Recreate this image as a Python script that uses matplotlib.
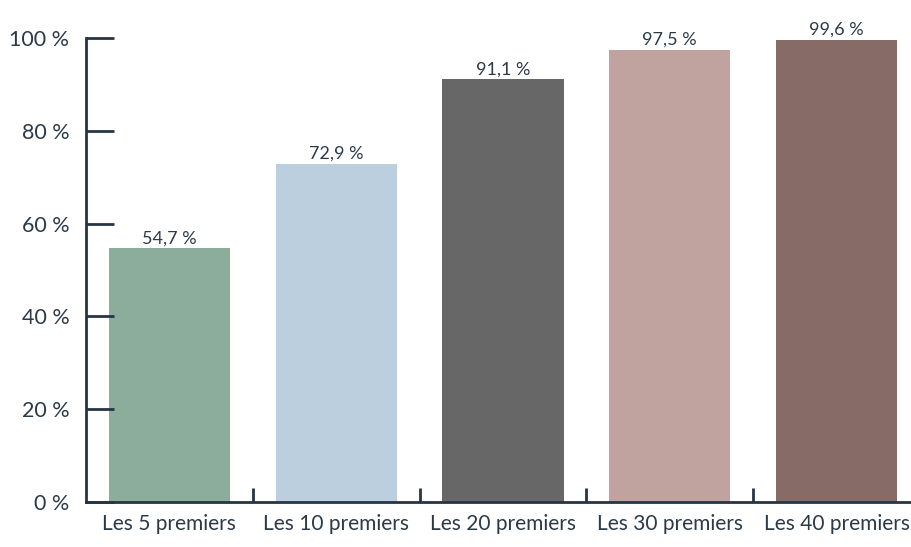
import numpy as np
import matplotlib.pyplot as plt

categories = ["Les 5 premiers", "Les 10 premiers", "Les 20 premiers", "Les 30 premiers", "Les 40 premiers"]
values = [54.7, 72.9, 91.1, 97.5, 99.6]
value_labels = ["54,7 %", "72,9 %", "91,1 %", "97,5 %", "99,6 %"]
colors = ["#8cac9c", "#bccfdf", "#676767", "#c0a29f", "#866b67"]
yticks = [0, 20, 40, 60, 80, 100]

ink = "#2c3a48"
plt.rcParams['font.family'] = ['Lato', 'DejaVu Sans']

fig = plt.figure(figsize=(9.12, 5.47), dpi=100)
ax = fig.add_axes([86/912, 45/547, 834/912, 464/547])

x = np.arange(len(categories))
ax.bar(x, values, width=0.727, color=colors)
for xi, v, lab in zip(x, values, value_labels):
    ax.text(xi, v + 0.4, lab, ha="center", va="bottom", fontsize=13, color=ink)

ax.set_xlim(-0.5, 4.5)
ax.set_ylim(0, 100)
ax.set_yticks(yticks)
ax.set_yticklabels([f"{t} %" for t in yticks], fontsize=15.5, color=ink)
ax.tick_params(axis="y", direction="in", length=20, width=2, color="#263545", pad=12)

ax.set_xticks(x + 0.5, minor=False)
ax.set_xticklabels([])
ax.tick_params(axis="x", direction="in", length=10, width=2, color="#263545")
ax.set_xticks(x, minor=True)
ax.set_xticklabels(categories, minor=True, fontsize=15, color=ink)
ax.tick_params(axis="x", which="minor", length=0, pad=9)

for s in ["top", "right"]:
    ax.spines[s].set_visible(False)
for s in ["left", "bottom"]:
    ax.spines[s].set_color("#263545")
    ax.spines[s].set_linewidth(2)

fig.savefig("out.png", dpi=100)
